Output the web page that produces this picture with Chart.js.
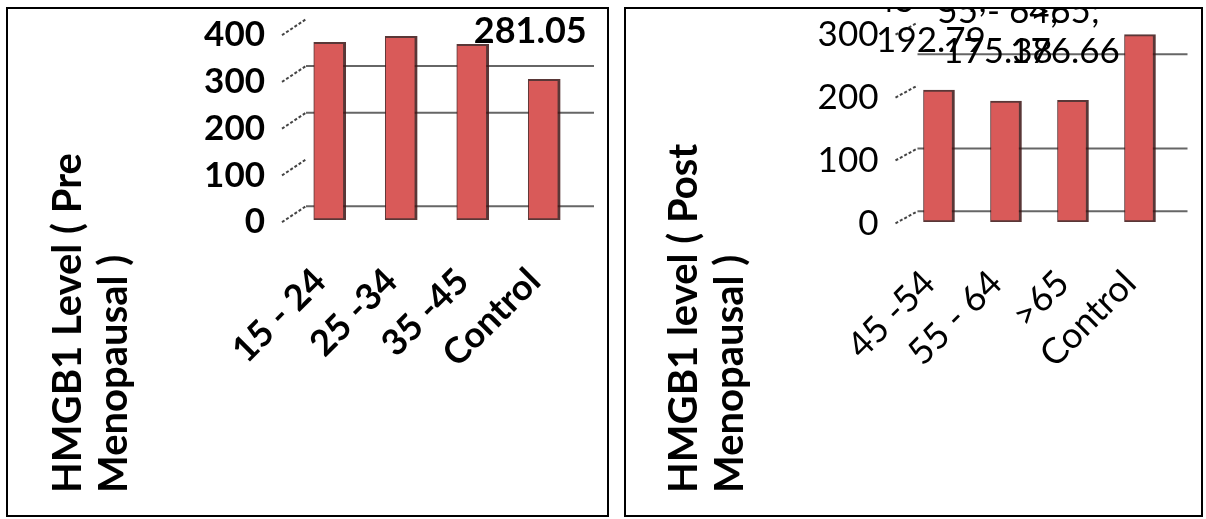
<!DOCTYPE html>
<html>
<head>
<meta charset="utf-8">
<script src="https://cdn.jsdelivr.net/npm/chart.js@4"></script>
<style>
  body { margin: 0; background: #fff; }
  .panel { position: absolute; top: 7px; border: 2px solid #000; }
  #prePanel { left: 6px; }
  #postPanel { left: 624px; }
  canvas { display: block; }
</style>
</head>
<body>
<div class="panel" id="prePanel"><canvas id="preChart" width="599" height="506"></canvas></div>
<div class="panel" id="postPanel"><canvas id="postChart" width="575" height="506"></canvas></div>
<script>
// pre menopausal
const preCategories = ['15 - 24', '25 -34', '35 -45', 'Control'];
const preValues = [360, 373, 356, 281.05];
const preTicks = [0, 100, 200, 300, 400];
const preGrid = [0, 200, 300];

// post menopausal
const postCategories = ['45 -54', '55 - 64', '>65', 'Control'];
const postValues = [192.79, 175.38, 176.66, 281.05];
const postTicks = [0, 50, 100, 150, 200, 250, 300];
const postTickLabels = ['0', '', '100', '', '200', '', '300'];
const postGrid = [0, 100, 250];

Chart.defaults.font.family = 'Lato';
Chart.defaults.color = '#000';

// back wall gridlines, slanted tick dashes and the data labels
const wallPlugin = {
    id: 'wall',
    beforeDatasetsDraw(chart, args, o) {
        const ctx = chart.ctx;
        const a = chart.chartArea;
        const y = chart.scales.y;
        ctx.save();
        ctx.lineWidth = 2;
        ctx.strokeStyle = '#666';
        o.grid.forEach(v => {
            const py = y.getPixelForValue(v) + o.backY;
            ctx.beginPath();
            ctx.moveTo(a.left + o.backX, py);
            ctx.lineTo(a.right + o.backX + 2, py);
            ctx.stroke();
        });
        ctx.setLineDash([3, 2]);
        ctx.strokeStyle = '#444';
        y.ticks.forEach(t => {
            const py = y.getPixelForValue(t.value);
            ctx.beginPath();
            ctx.moveTo(a.left - o.frontX, py + o.frontY);
            ctx.lineTo(a.left + o.backX, py + o.backY);
            ctx.stroke();
        });
        ctx.restore();
    },
    afterDatasetsDraw(chart, args, o) {
        const ctx = chart.ctx;
        const ds = chart.data.datasets[0];
        ctx.save();
        ctx.font = o.font;
        ctx.fillStyle = '#000';
        ctx.textAlign = 'center';
        ctx.textBaseline = 'middle';
        chart.getDatasetMeta(0).data.forEach((bar, i) => {
            const x = bar.x + o.labelX;
            const yy = bar.y + o.labelY;
            ctx.fillText(chart.data.labels[i] + ';', x, yy - o.lineGap);
            ctx.fillText(ds.data[i].toFixed(2), x, yy);
        });
        ctx.restore();
    }
};
Chart.register(wallPlugin);

new Chart(document.getElementById('preChart').getContext('2d'), {
    type: 'bar',
    data: {
        labels: preCategories,
        datasets: [{
            data: preValues,
            base: -20,
            backgroundColor: '#D95A59',
            borderColor: 'rgba(60,20,20,0.85)',
            borderWidth: { left: 1, right: 3, top: 2, bottom: 2 },
            borderSkipped: false,
            barThickness: 32
        }]
    },
    options: {
        responsive: false,
        animation: false,
        layout: { padding: { left: 37, right: 27, top: 3, bottom: 22 } },
        scales: {
            x: {
                grid: { display: false, drawTicks: false },
                border: { display: false },
                ticks: { autoSkip: false, minRotation: 45, maxRotation: 45, padding: 40, labelOffset: -10,
                         font: { size: 36, weight: 'bold' } },
                afterFit: s => { s.height = 273; s.paddingLeft = 0; s.paddingRight = 0; }
            },
            y: {
                min: -20,
                max: 425,
                grid: { display: false, drawTicks: false },
                border: { display: false },
                ticks: { padding: 29, labelOffset: 11.5, font: { size: 35, weight: 'bold' } },
                afterBuildTicks: s => { s.ticks = preTicks.map(v => ({ value: v })); },
                afterFit: s => { s.width = 157; s.paddingTop = 0; s.paddingBottom = 0; }
            }
        },
        plugins: {
            legend: { display: false },
            tooltip: { enabled: false },
            title: {
                display: true,
                position: 'left',
                align: 'start',
                text: ['HMGB1 Level ( Pre', 'Menopausal )'],
                color: '#000',
                padding: 0,
                font: { size: 40, weight: 'bold', lineHeight: 1.15 }
            },
            wall: {
                grid: preGrid, backX: 12, backY: -4.5, frontX: 12, frontY: 11.5,
                font: 'bold 36px Lato', labelX: -14, labelY: -48, lineGap: 40
            }
        }
    }
});

new Chart(document.getElementById('postChart').getContext('2d'), {
    type: 'bar',
    data: {
        labels: postCategories,
        datasets: [{
            data: postValues,
            base: -17,
            backgroundColor: '#D95A59',
            borderColor: 'rgba(60,20,20,0.85)',
            borderWidth: { left: 1, right: 3, top: 2, bottom: 2 },
            borderSkipped: false,
            barThickness: 31
        }]
    },
    options: {
        responsive: false,
        animation: false,
        layout: { padding: { left: 35, right: 27.5, top: 3, bottom: 22 } },
        scales: {
            x: {
                grid: { display: false, drawTicks: false },
                border: { display: false },
                ticks: { autoSkip: false, minRotation: 45, maxRotation: 45, padding: 40, labelOffset: -10,
                         font: { size: 36 } },
                afterFit: s => { s.height = 271; s.paddingLeft = 0; s.paddingRight = 0; }
            },
            y: {
                min: -17,
                max: 317,
                grid: { display: false, drawTicks: false },
                border: { display: false },
                ticks: { padding: 27, labelOffset: 12, font: { size: 35 },
                         callback: (v, i) => postTickLabels[i] },
                afterBuildTicks: s => { s.ticks = postTicks.map(v => ({ value: v })); },
                afterFit: s => { s.width = 152.5; s.paddingTop = 0; s.paddingBottom = 0; }
            }
        },
        plugins: {
            legend: { display: false },
            tooltip: { enabled: false },
            title: {
                display: true,
                position: 'left',
                align: 'start',
                text: ['HMGB1 level ( Post', 'Menopausal )'],
                color: '#000',
                padding: 0,
                font: { size: 40, weight: 'bold', lineHeight: 1.15 }
            },
            wall: {
                grid: postGrid, backX: 12, backY: 0, frontX: 10, frontY: 12,
                font: '35px Lato', labelX: -8, labelY: -49, lineGap: 40
            }
        }
    }
});
</script>
</body>
</html>
